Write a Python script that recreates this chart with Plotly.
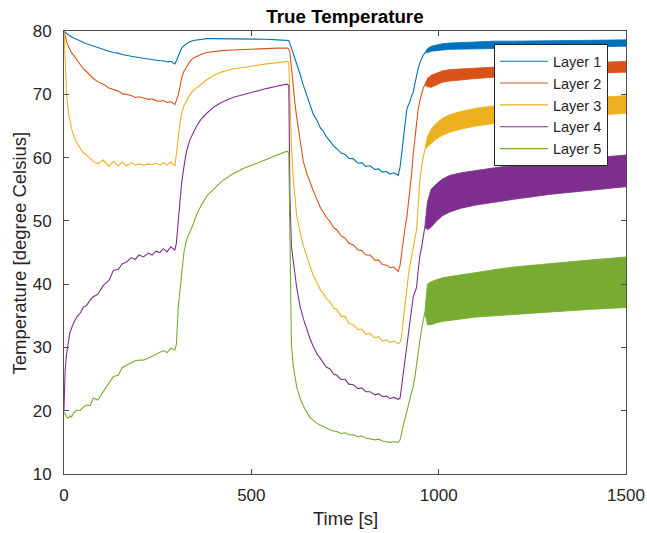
import plotly.graph_objects as go

# ---- data ----
T = [0, 3, 7, 12, 16, 20, 25, 34, 43, 52,
     60, 70, 78, 90, 105, 120, 132, 145, 155, 167,
     180, 190, 200, 212, 225, 235, 245, 256, 265, 275,
     285, 296, 300, 305, 309, 314, 320, 327, 336, 345,
     354, 365, 381, 400, 420, 450, 480, 510, 540, 570,
     595, 600, 603, 607, 612, 616, 621, 630, 639, 648,
     656, 665, 675, 685, 692, 700, 710, 720, 728, 740,
     750, 760, 772, 785, 795, 805, 817, 830, 840, 850,
     861, 870, 880, 892, 897, 901, 905, 910, 915, 919,
     923, 928, 932, 937, 941, 945, 950, 955, 959, 963]

layer1 = [80.0, 79.8, 79.6, 79.4, 79.2, 79.1, 78.9, 78.7, 78.4, 78.2,
          78.0, 77.8, 77.6, 77.3, 77.0, 76.8, 76.6, 76.5, 76.3, 76.1,
          76.0, 75.9, 75.8, 75.7, 75.6, 75.5, 75.4, 75.3, 75.3, 75.1,
          75.2, 74.8, 75.3, 76.0, 76.7, 77.3, 77.7, 78.0, 78.3, 78.5,
          78.6, 78.7, 78.8, 78.8, 78.8, 78.8, 78.7, 78.7, 78.7, 78.6,
          78.6, 78.5, 78.0, 77.3, 76.6, 75.8, 75.0, 73.2, 71.4, 69.8,
          68.6, 66.9, 65.9, 64.6, 64.2, 63.3, 62.6, 61.8, 61.4, 60.7,
          60.5, 59.9, 59.8, 59.1, 59.2, 58.6, 58.7, 58.1, 58.2, 57.7,
          57.8, 57.4, 57.6, 57.2, 58.5, 60.5, 62.9, 66.0, 67.6, 68.3,
          68.8, 69.8, 70.3, 71.8, 73.0, 74.0, 75.0, 75.8, 76.2, 76.5]

layer2 = [80.0, 79.2, 78.3, 77.5, 77.0, 76.6, 76.2, 75.4, 74.6, 74.0,
          73.6, 72.9, 72.5, 72.0, 71.6, 71.0, 70.7, 70.5, 70.1, 69.9,
          69.8, 69.5, 69.6, 69.4, 69.2, 69.3, 69.0, 68.9, 69.0, 68.7,
          68.8, 68.4, 69.0, 69.9, 71.0, 72.6, 73.6, 74.4, 75.2, 75.7,
          76.0, 76.3, 76.6, 76.8, 76.9, 77.0, 77.1, 77.2, 77.2, 77.3,
          77.3, 77.2, 76.6, 74.0, 71.3, 68.8, 66.4, 62.5, 59.3, 57.5,
          56.1, 54.8, 53.4, 52.0, 51.4, 50.6, 49.9, 48.9, 48.6, 47.6,
          47.3, 46.5, 46.2, 45.4, 45.3, 44.6, 44.6, 43.8, 43.8, 43.1,
          43.0, 42.6, 42.7, 42.0, 43.0, 45.0, 47.0, 48.8, 50.6, 52.5,
          54.3, 57.5, 60.5, 63.5, 65.5, 67.5, 69.0, 70.2, 71.0, 71.5]

layer3 = [80.0, 75.2, 69.9, 67.0, 65.7, 64.6, 63.6, 62.4, 61.5, 60.8,
          60.4, 59.8, 59.4, 59.0, 59.6, 58.6, 59.4, 58.7, 59.3, 58.7,
          59.2, 58.8, 59.0, 58.8, 59.0, 58.9, 59.1, 58.8, 59.2, 58.8,
          59.3, 58.7, 60.4, 63.0, 65.2, 67.0, 68.2, 69.0, 69.9, 70.6,
          71.0, 71.6, 72.3, 73.0, 73.5, 74.0, 74.3, 74.6, 74.8, 75.0,
          75.2, 75.1, 69.8, 61.8, 56.6, 53.8, 50.8, 48.3, 46.0, 44.4,
          43.0, 41.4, 40.3, 39.0, 38.6, 37.7, 37.2, 36.2, 36.0, 34.9,
          34.9, 33.8, 33.6, 32.8, 32.9, 32.1, 32.2, 31.5, 31.7, 31.0,
          31.2, 30.8, 31.0, 30.6, 30.8, 31.7, 34.0, 37.0, 39.7, 41.3,
          42.8, 44.5, 45.7, 47.0, 48.6, 52.0, 56.6, 58.8, 60.3, 61.3]

layer4 = [20.1, 26.4, 29.0, 31.2, 32.4, 33.0, 33.8, 34.8, 35.4, 36.4,
          36.6, 37.5, 38.0, 38.4, 39.8, 40.6, 42.2, 42.3, 43.2, 43.5,
          44.2, 43.9, 44.6, 44.3, 44.9, 44.6, 45.2, 45.0, 45.6, 45.1,
          45.9, 45.4, 46.5, 50.0, 53.0, 56.0, 58.5, 61.0, 62.8, 64.0,
          65.0, 66.0, 67.0, 68.0, 68.7, 69.5, 70.0, 70.5, 70.9, 71.3,
          71.6, 71.4, 53.9, 46.0, 43.0, 41.8, 39.5, 36.5, 34.5, 32.8,
          31.5, 30.2, 29.0, 28.2, 27.6, 26.9, 26.6, 25.8, 25.6, 24.9,
          25.0, 24.2, 24.1, 23.5, 23.6, 23.0, 23.0, 22.5, 22.7, 22.2,
          22.3, 21.9, 22.1, 21.8, 22.0, 23.8, 26.0, 28.5, 31.0, 32.5,
          33.9, 36.5, 38.0, 38.8, 39.5, 42.0, 44.5, 46.0, 47.6, 49.0]

layer5 = [19.8, 19.4, 19.0, 18.8, 19.2, 19.0, 19.6, 20.1, 20.0, 20.6,
          20.9, 20.8, 22.0, 21.7, 23.0, 24.2, 25.4, 25.6, 26.8, 27.2,
          27.6, 27.9, 28.0, 28.0, 28.3, 28.6, 28.9, 29.1, 29.5, 29.2,
          29.9, 29.6, 30.5, 36.4, 39.0, 42.2, 45.0, 47.0, 48.2, 49.5,
          51.0, 52.3, 53.9, 55.0, 56.2, 57.4, 58.3, 59.0, 59.7, 60.3,
          61.0, 60.8, 44.0, 30.5, 27.0, 25.5, 23.8, 22.0, 20.7, 19.8,
          19.0, 18.5, 18.0, 17.7, 17.5, 17.2, 17.0, 16.8, 16.7, 16.4,
          16.5, 16.2, 16.2, 15.9, 16.0, 15.7, 15.6, 15.4, 15.5, 15.2,
          15.1, 15.0, 15.1, 15.0, 15.4, 16.5, 17.5, 18.8, 19.8, 20.6,
          21.8, 23.0, 23.8, 25.5, 27.5, 29.5, 31.2, 33.0, 34.5, 35.5]

# fast-oscillation region (t >= 963): upper / lower envelope of each layer
TB = [963, 970, 980, 995, 1010, 1030, 1060, 1100, 1150, 1200, 1300, 1400, 1500]
layer1_up = [76.5, 77.2, 77.6, 77.8, 78.0, 78.1, 78.2, 78.3, 78.4, 78.4, 78.5, 78.6, 78.6]
layer1_lo = [76.5, 76.6, 76.8, 76.9, 77.0, 77.1, 77.2, 77.2, 77.3, 77.3, 77.4, 77.5, 77.6]
layer2_up = [71.5, 72.5, 73.0, 73.4, 73.7, 73.9, 74.0, 74.2, 74.4, 74.5, 74.8, 75.0, 75.2]
layer2_lo = [71.5, 71.2, 71.1, 71.5, 71.9, 72.1, 72.3, 72.5, 72.7, 72.8, 73.1, 73.3, 73.5]
layer3_up = [61.3, 63.3, 64.5, 65.5, 66.2, 66.8, 67.3, 67.8, 68.2, 68.5, 69.0, 69.4, 69.8]
layer3_lo = [61.3, 61.6, 62.2, 63.0, 63.5, 64.0, 64.5, 65.0, 65.4, 65.7, 66.2, 66.6, 67.0]
layer4_up = [49.0, 53.0, 55.0, 55.9, 56.6, 57.2, 57.6, 58.0, 58.4, 58.8, 59.4, 59.9, 60.4]
layer4_lo = [49.0, 48.6, 49.0, 50.0, 50.8, 51.4, 52.0, 52.5, 53.0, 53.4, 54.2, 54.8, 55.4]
layer5_up = [35.5, 40.0, 40.4, 40.7, 41.0, 41.2, 41.5, 41.9, 42.3, 42.7, 43.3, 43.8, 44.3]
layer5_lo = [35.5, 33.6, 33.6, 33.9, 34.1, 34.3, 34.5, 34.8, 35.0, 35.2, 35.6, 36.0, 36.3]

names = ["Layer 1", "Layer 2", "Layer 3", "Layer 4", "Layer 5"]
x_ticks = [0, 500, 1000, 1500]
y_ticks = [10, 20, 30, 40, 50, 60, 70, 80]

# ---- styling ----
colors = ["#0072BD", "#D95319", "#EDB120", "#7E2F8E", "#77AC30"]
lines = [layer1, layer2, layer3, layer4, layer5]
ups = [layer1_up, layer2_up, layer3_up, layer4_up, layer5_up]
los = [layer1_lo, layer2_lo, layer3_lo, layer4_lo, layer5_lo]
FONT = "Liberation Sans, Arial, Helvetica, sans-serif"
TXT = "#262626"
AX = "#4d4d4d"

W, H = 647, 533

fig = go.Figure()
for name, col, y, up, lo in zip(names, colors, lines, ups, los):
    fig.add_trace(go.Scatter(x=T, y=y, mode="lines", name=name, legendgroup=name,
                             line=dict(color=col, width=1.1)))
    fig.add_trace(go.Scatter(x=TB + TB[::-1], y=up + lo[::-1], mode="lines",
                             fill="toself", fillcolor=col, legendgroup=name,
                             showlegend=False, hoverinfo="skip",
                             line=dict(color=col, width=0.8)))

axis_common = dict(showline=True, mirror="ticks", linecolor=AX, linewidth=1,
                   ticks="inside", ticklen=5, tickcolor=AX, tickwidth=1,
                   showgrid=False, zeroline=False, automargin=False,
                   tickfont=dict(family=FONT, size=17, color=TXT))

fig.update_xaxes(range=[0, 1500], tickvals=x_ticks, ticklabelstandoff=6, **axis_common)
fig.update_yaxes(range=[10, 80], tickvals=y_ticks, ticklabelstandoff=8, **axis_common)

fig.update_layout(
    width=W, height=H,
    margin=dict(l=64, r=21, t=31, b=59, pad=0, autoexpand=False),
    paper_bgcolor="white", plot_bgcolor="white",
    font=dict(family=FONT, color=TXT),
    title=dict(text="<b>True Temperature</b>", x=0.5, xref="paper", xanchor="center",
               y=1 - 16 / H, yref="container", yanchor="middle",
               font=dict(family=FONT, size=18.8, color="#000000")),
    legend=dict(x=0.765, y=0.97, xanchor="left", yanchor="top",
                bgcolor="white", bordercolor="#262626", borderwidth=1,
                font=dict(family=FONT, size=14.5, color=TXT),
                tracegroupgap=0, itemwidth=48),
    showlegend=True,
    annotations=[
        dict(text="Time [s]", xref="paper", yref="paper", x=0.5, y=-0.1008,
             xanchor="center", yanchor="middle", showarrow=False,
             font=dict(family=FONT, size=18.5, color=TXT)),
        dict(text="Temperature [degree Celsius]", xref="paper", yref="paper",
             x=-0.0783, y=0.5, xanchor="center", yanchor="middle", textangle=-90,
             showarrow=False, font=dict(family=FONT, size=18.5, color=TXT)),
    ],
)

# remove the browser's default 8 px body margin so the figure fills the window
fig.write_html("out.html",
               config={"displayModeBar": False},
               post_script="document.body.style.margin='0px';document.body.style.overflow='hidden';")
